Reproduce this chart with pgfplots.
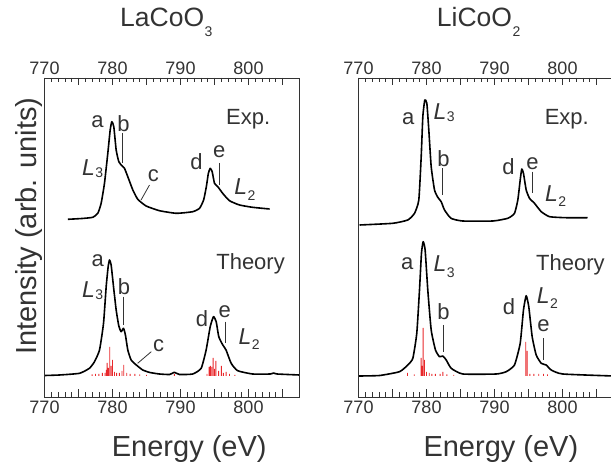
\documentclass[border=0pt]{standalone}
\usepackage{fontspec}
\setmainfont{Liberation Sans}
\usepackage{pgfplots}
\pgfplotsset{compat=1.18}
\definecolor{txt}{HTML}{333333}
\definecolor{stick}{HTML}{E8282B}
\pgfplotsset{
  panel/.style={
    width=255pt, height=319pt, scale only axis, anchor=south west,
    xmin=770, xmax=807.5, ymin=-21, ymax=298,
    xtick={770,775,...,805}, xticklabels={770,,780,,790,,800,},
    minor x tick num=4, ytick=\empty,
    tick align=inside, major tick length=7.5pt, minor tick length=4.5pt,
    axis line style={txt, line width=0.9pt},
    tick style={txt, line width=0.8pt},
    tick label style={font=\fontsize{18}{20}\selectfont, text=txt},
    /pgf/number format/assume math mode=true,
  },
  curve/.style={black, line width=1.6pt, line join=round, smooth, tension=0.3},
  sticks/.style={ybar, bar width=0.9pt, fill=stick, draw=none, mark=none},
}
\tikzset{ann/.style={font=\fontsize{22}{24}\selectfont, text=txt}}
\newcommand{\Ls}[2]{{\fontsize{23}{24}\selectfont\textit{L}}\kern0.5pt\raisebox{-#2pt}{\fontsize{14}{14}\selectfont #1}}
\newcommand{\sub}[1]{\kern0.5pt\raisebox{-9.5pt}{\fontsize{14}{14}\selectfont #1}}
\begin{document}
\begin{tikzpicture}[x=1pt,y=1pt]
% ---------------- LaCoO3 ----------------
\begin{axis}[panel, at={(44.5pt,69pt)}]
\addplot[curve] coordinates {(773.43,156.7)(775.5,157.5)(777.1,158.7)(777.84,162.7)(778.33,172.7)(778.82,192.7)(779.31,222.7)(779.66,246)(779.9,254.3)(780.19,249.3)(780.54,226)(780.93,214.3)(781.42,210)(781.76,207.7)(782.25,199.3)(782.99,186)(783.72,176.7)(784.95,170)(786.9,165.3)(789.4,162.7)(791.8,164.3)(792.8,167.7)(793.4,176)(793.8,189.3)(794.1,202.7)(794.37,207.7)(794.66,204.3)(795.0,192.7)(795.49,189.3)(796.2,182.7)(797.2,175.3)(798.68,171)(800.6,168.7)(803.1,167)};
\addplot[sticks] coordinates {(777.0,1.5)(777.5,2)(778.0,2)(778.5,3)(778.9,3)(779.1,6)(779.2,13)(779.4,8)(779.6,29)(779.8,10)(780.0,16)(780.3,4)(780.6,3)(781.0,3)(781.4,5)(781.65,11)(782.1,3)(782.6,2)(783.3,2)(784.0,1.5)(785.0,1)(789.1,2)(793.9,2)(794.2,9)(794.4,10)(794.6,9)(794.8,18)(795.0,7)(795.2,15)(795.6,5)(796.0,10)(796.3,3)(796.7,4)(797.2,2)(798.0,1)};
\addplot[curve] coordinates {(770,0.5)(772.2,1)(775.15,2.7)(776.6,7.7)(777.35,14.3)(778.09,26)(778.68,52.7)(779.07,89.3)(779.36,109.3)(779.56,116)(779.8,111)(780.15,89.3)(780.54,66)(780.93,50)(781.27,44.3)(781.62,47.7)(781.9,41)(782.25,26)(782.74,16)(783.5,11)(784.45,6)(785.5,3.5)(786.9,2)(788.4,1.5)(789.1,3.7)(789.85,1.5)(791.8,2)(793.04,7.7)(793.77,26)(794.37,49.3)(794.85,59.3)(795.25,54.3)(795.63,39.3)(796.22,31)(796.7,26)(797.45,12.7)(798.4,5.3)(800.6,2)(803.2,2)(803.7,3)(804.2,2)(807.5,1)};
% labels Exp
\node[ann, anchor=base] at (axis cs:777.8,248) {a};
\node[ann, anchor=base] at (axis cs:781.6,244) {b};
\draw[txt, line width=0.8pt] (axis cs:781.5,243) -- (axis cs:781.5,213);
\node[ann, anchor=base west, inner sep=0pt] at (axis cs:775.5,200) {\Ls{3}{1.5}};
\node[ann, anchor=base] at (axis cs:786.0,194) {c};
\draw[txt, line width=0.8pt] (axis cs:785.44,191) -- (axis cs:784.2,176);
\node[ann, anchor=base] at (axis cs:792.35,206) {d};
\node[ann, anchor=base] at (axis cs:795.7,218) {e};
\draw[txt, line width=0.8pt] (axis cs:795.7,213) -- (axis cs:795.7,191);
\node[ann, anchor=base west, inner sep=0pt] at (axis cs:797.9,181) {\Ls{2}{6}};
\node[ann, anchor=base west] at (axis cs:796.2,251) {Exp.};
% labels Theory
\node[ann, anchor=base] at (axis cs:777.84,109.3) {a};
\node[ann, anchor=base west, inner sep=0pt] at (axis cs:775.5,78.5) {\Ls{3}{2}};
\node[ann, anchor=base] at (axis cs:781.7,81) {b};
\draw[txt, line width=0.8pt] (axis cs:781.66,79.3) -- (axis cs:781.66,51);
\node[ann, anchor=base] at (axis cs:786.8,24.3) {c};
\draw[txt, line width=0.8pt] (axis cs:785.7,24.3) -- (axis cs:783.7,12.7);
\node[ann, anchor=base] at (axis cs:793.16,49.3) {d};
\node[ann, anchor=base] at (axis cs:796.5,58.7) {e};
\draw[txt, line width=0.8pt] (axis cs:796.6,54.3) -- (axis cs:796.6,32.7);
\node[ann, anchor=base west, inner sep=0pt] at (axis cs:798.5,31) {\Ls{2}{5}};
\node[ann, anchor=base west] at (axis cs:794.75,106) {Theory};
\end{axis}
\begin{axis}[panel, at={(44.5pt,69pt)}, xticklabel pos=upper]
\end{axis}
% ---------------- LiCoO2 ----------------
\begin{axis}[panel, at={(358.5pt,69pt)}]
\addplot[curve] coordinates {(770.15,151)(775.04,152.7)(777.25,156)(778.24,162.7)(778.87,176)(779.22,219.3)(779.46,259.3)(779.75,276)(780.05,272.7)(780.34,246)(780.69,209.3)(781.18,186)(781.66,178.7)(782.16,174.3)(782.65,166)(783.6,157.7)(785.3,155)(789.75,155)(791.96,157.7)(792.94,162.7)(793.43,176)(793.78,196)(794.01,207)(794.26,202.7)(794.66,186)(795.15,177.7)(795.88,172.7)(796.87,164.3)(798.1,159.3)(800.5,158.3)(803.7,158.3)};
\addplot[sticks] coordinates {(777.2,3)(778.2,1.5)(779.2,18)(779.35,10)(779.5,48)(779.7,16)(780.0,4)(780.4,3)(780.8,2)(781.3,2)(782.0,2)(782.4,4)(783.0,1.5)(784.0,1)(794.6,34)(794.8,25)(795.2,2)(795.8,2)(796.5,2)(797.2,2)(797.8,1.5)};
\addplot[curve] coordinates {(770,0)(773.1,0.5)(776.03,4.3)(777.25,11)(777.99,17.7)(778.57,42.7)(778.97,86)(779.26,122.7)(779.51,134.3)(779.8,126)(780.19,86)(780.69,46)(781.32,26)(781.91,19.3)(782.4,20)(782.9,16)(783.63,7.7)(785.34,2)(790.25,2)(791.72,4.3)(792.94,11)(793.78,32.7)(794.26,66)(794.66,80.3)(795.04,69.3)(795.54,39.3)(796.13,21)(796.87,12.7)(797.6,11)(798.34,6)(800.04,2)(807.5,0)};
% labels Exp
\node[ann, anchor=base] at (axis cs:777.3,251) {a};
\node[ann, anchor=base west, inner sep=0pt] at (axis cs:781.0,256) {\Ls{3}{1.5}};
\node[ann, anchor=base] at (axis cs:782.5,209.3) {b};
\draw[txt, line width=0.8pt] (axis cs:782.3,207.7) -- (axis cs:782.3,181);
\node[ann, anchor=base] at (axis cs:792.06,201) {d};
\node[ann, anchor=base] at (axis cs:795.6,206) {e};
\draw[txt, line width=0.8pt] (axis cs:795.54,204.3) -- (axis cs:795.54,182.7);
\node[ann, anchor=base west, inner sep=0pt] at (axis cs:797.4,174) {\Ls{2}{5}};
\node[ann, anchor=base west] at (axis cs:796.87,251) {Exp.};
% labels Theory
\node[ann, anchor=base] at (axis cs:777.18,106) {a};
\node[ann, anchor=base west, inner sep=0pt] at (axis cs:781.0,104.3) {\Ls{3}{6}};
\node[ann, anchor=base] at (axis cs:782.5,56) {b};
\draw[txt, line width=0.8pt] (axis cs:782.5,51) -- (axis cs:782.5,24.3);
\node[ann, anchor=base] at (axis cs:792.13,61) {d};
\node[ann, anchor=base west, inner sep=0pt] at (axis cs:796.2,72) {\Ls{2}{5}};
\node[ann, anchor=base] at (axis cs:797.2,44.3) {e};
\draw[txt, line width=0.8pt] (axis cs:797.25,37.7) -- (axis cs:797.25,16);
\node[ann, anchor=base west] at (axis cs:795.6,105) {Theory};
\end{axis}
\begin{axis}[panel, at={(358.5pt,69pt)}, xticklabel pos=upper]
\end{axis}
% ---------------- titles and axis labels ----------------
\node[font=\fontsize{26.5}{30}\selectfont, text=txt, anchor=base west, inner sep=0pt] at (120,439) {LaCoO\sub{3}};
\node[font=\fontsize{26.5}{30}\selectfont, text=txt, anchor=base west, inner sep=0pt] at (436.7,439) {LiCoO\sub{2}};
\node[font=\fontsize{29}{32}\selectfont, text=txt, anchor=base west, inner sep=0pt] at (111.7,9.3) {Energy (eV)};
\node[font=\fontsize{29}{32}\selectfont, text=txt, anchor=base west, inner sep=0pt] at (423.3,9.3) {Energy (eV)};
\node[font=\fontsize{29}{32}\selectfont, text=txt, anchor=base west, rotate=90, inner sep=0pt] at (36.7,111) {Intensity (arb. units)};
\pgfresetboundingbox
\path[use as bounding box] (0,0) rectangle (611,466);
\end{tikzpicture}
\end{document}
